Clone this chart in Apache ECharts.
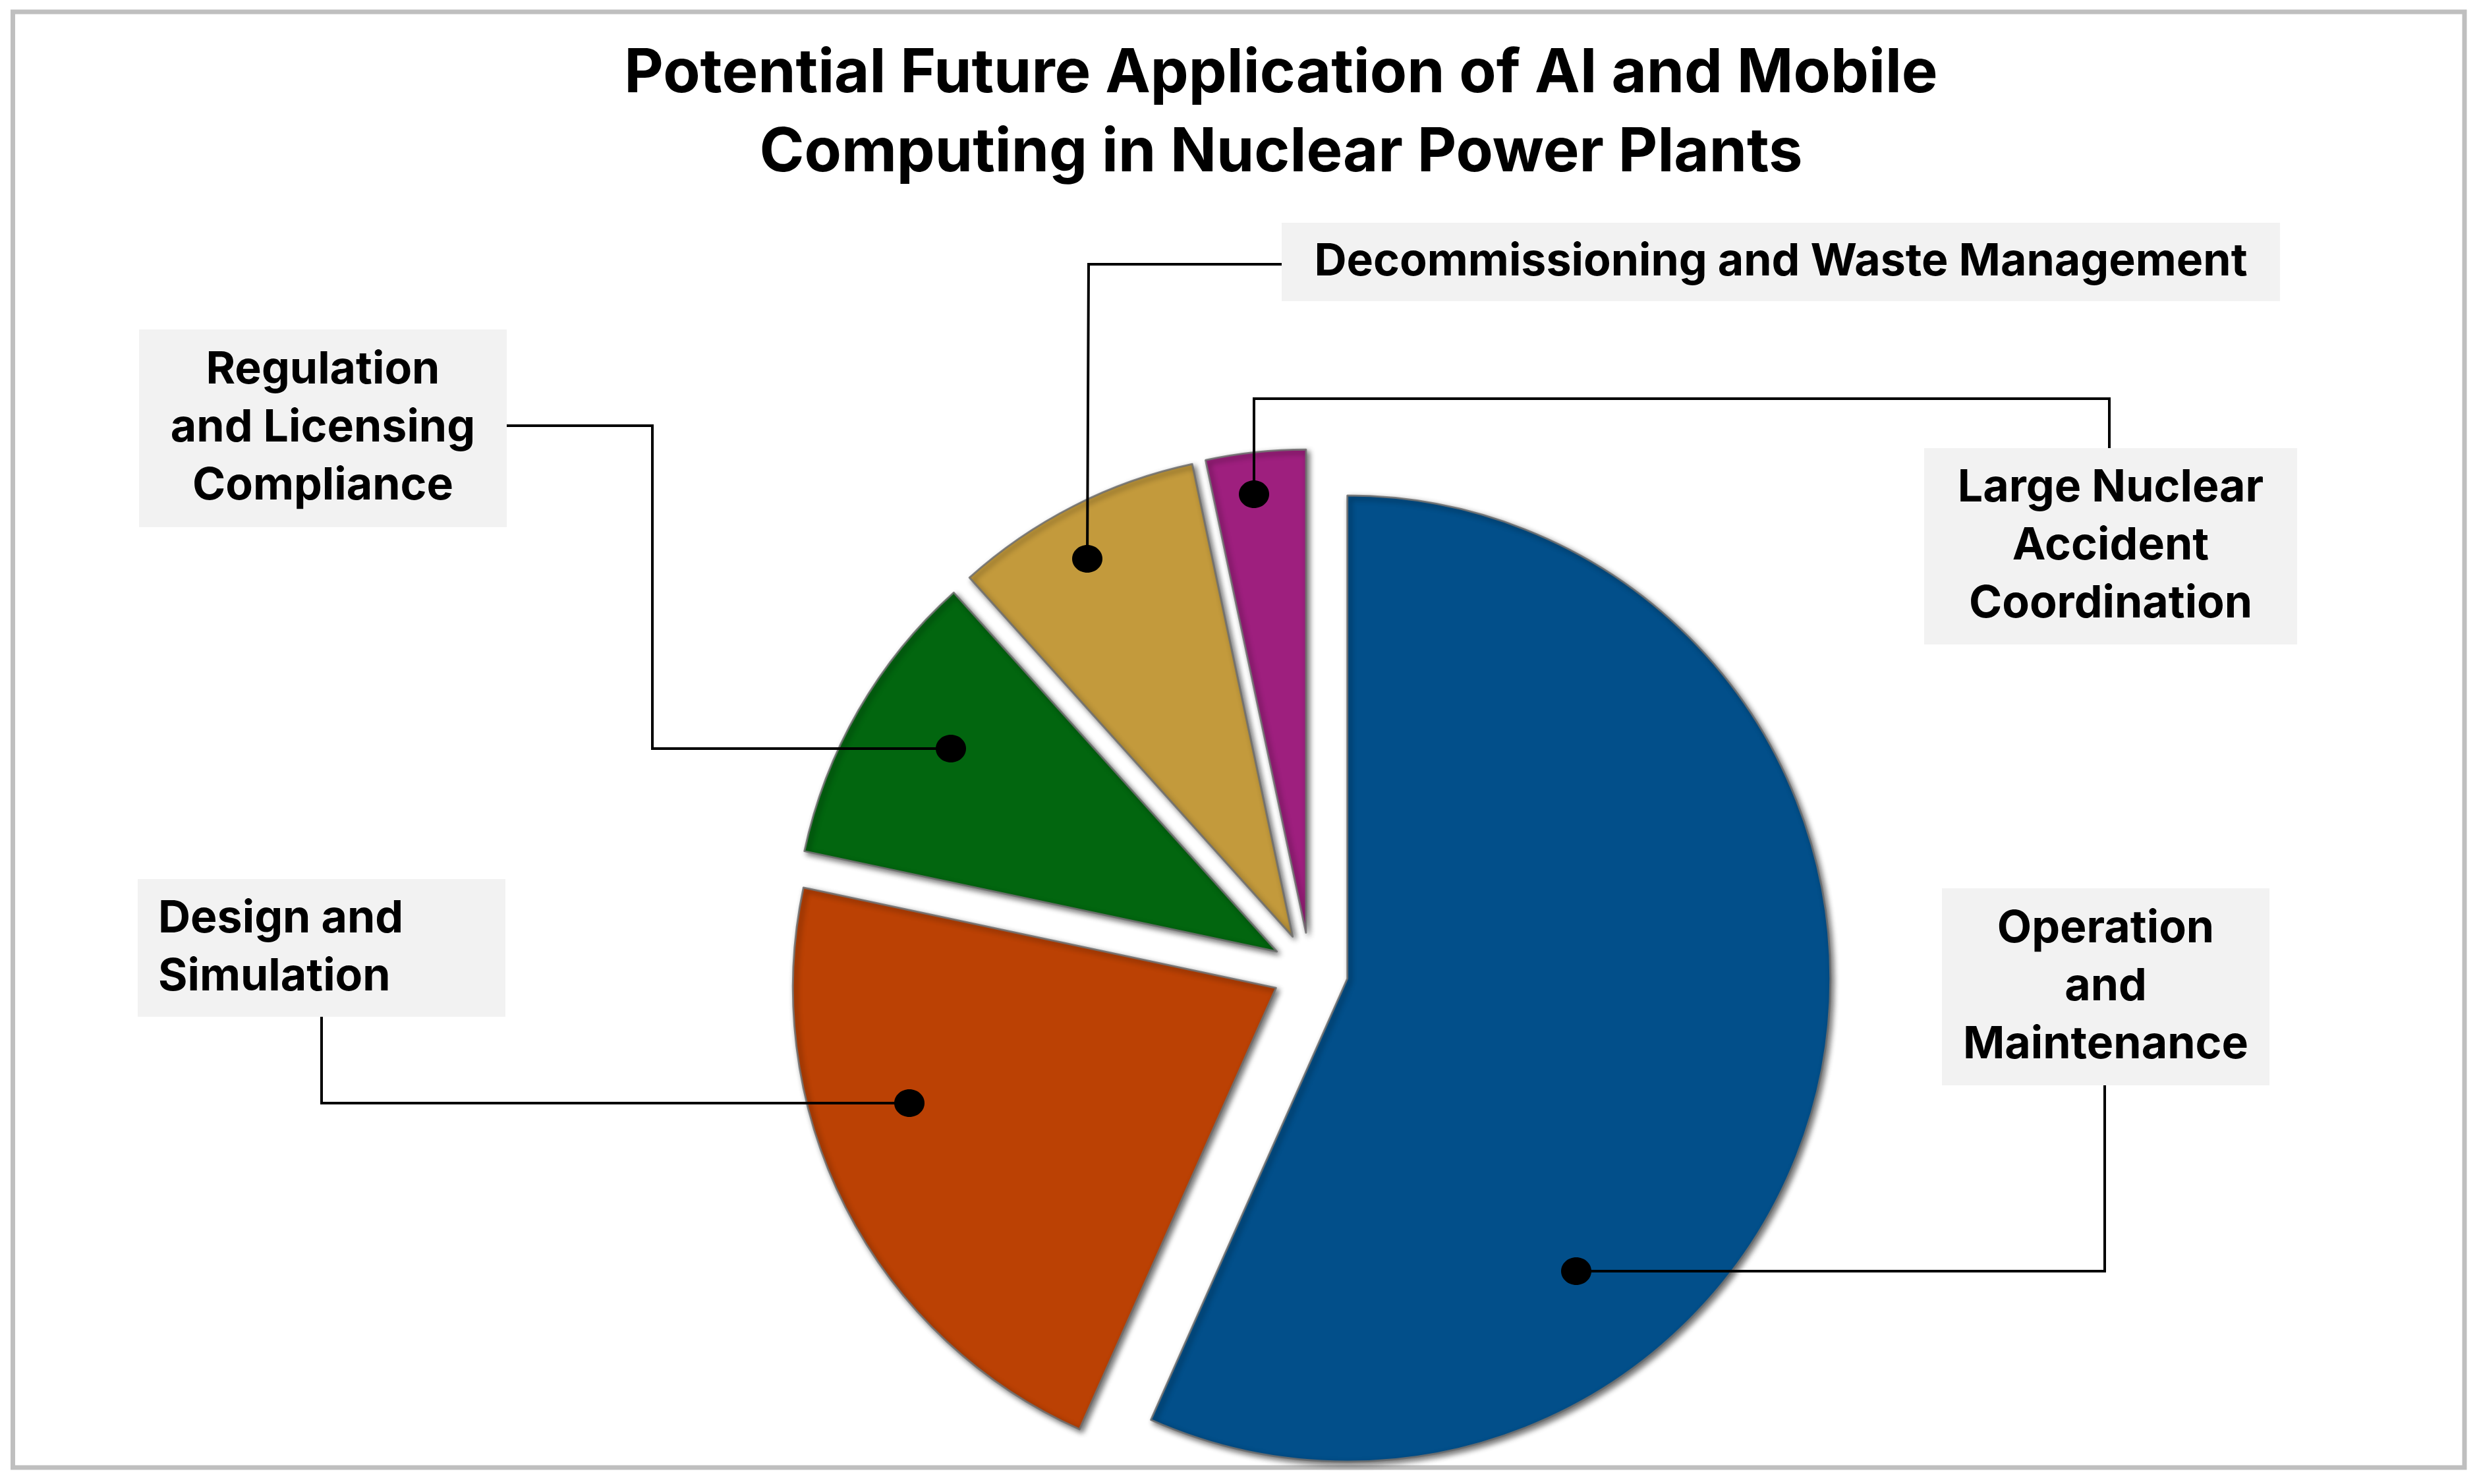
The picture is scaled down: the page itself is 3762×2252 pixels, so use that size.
<!DOCTYPE html>
<html>
<head>
    <meta charset="utf-8">
    <script src="https://cdn.jsdelivr.net/npm/echarts@6/dist/echarts.min.js"></script>
    <style>
        html, body { margin: 0; padding: 0; background: #fff; }
        #main { width: 3762px; height: 2252px; }
    </style>
</head>
<body>
<div id="main"></div>
<script>
    // slice data, clockwise from 12 o'clock
    var categories = [
        'Operation and Maintenance',
        'Design and Simulation',
        'Regulation and Licensing Compliance',
        'Decommissioning and Waste Management',
        'Large Nuclear Accident Coordination'
    ];
    var values = [34, 13, 6, 5, 2];
    var colors = ['#024F8A', '#BB4104', '#02660F', '#C39A3C', '#9E1F7E'];
    // how each label is wrapped in its box
    var labelText = [
        'Operation\nand\nMaintenance',
        'Design and\nSimulation',
        'Regulation\nand Licensing\nCompliance',
        'Decommissioning and Waste Management',
        'Large Nuclear\nAccident\nCoordination'
    ];

    // callout boxes and elbow connectors (pixel layout)
    var callouts = [
        {box: [2947, 1348, 497, 299], align: 'center', path: [[2392, 1929], [3194, 1929], [3194, 1647]]},
        {box: [209, 1334, 558, 209], align: 'left', path: [[1380, 1674], [488, 1674], [488, 1543]]},
        {box: [211, 500, 558, 300], align: 'center', path: [[1443, 1136], [990, 1136], [990, 646], [769, 646]]},
        {box: [1945, 338, 1515, 119], align: 'center', path: [[1650, 848], [1652, 401], [1945, 401]]},
        {box: [2920, 680, 566, 298], align: 'center', path: [[1903, 750], [1903, 605], [3201, 605], [3201, 680]]}
    ];

    var chart = echarts.init(document.getElementById('main'), null, {renderer: 'canvas'});

    var graphics = [{
        type: 'rect',
        z: 0,
        shape: {x: 19.5, y: 18, width: 3720.5, height: 2209},
        style: {fill: null, stroke: '#BFBFBF', lineWidth: 7}
    }];

    callouts.forEach(function (c, i) {
        var b = c.box;
        graphics.push({
            type: 'rect',
            z: 10,
            shape: {x: b[0], y: b[1], width: b[2], height: b[3]},
            style: {fill: '#F2F2F2'}
        });
        graphics.push({
            type: 'text',
            z: 11,
            style: {
                text: labelText[i],
                x: c.align === 'left' ? b[0] + 31 : b[0] + b[2] / 2,
                y: b[1] + b[3] / 2,
                align: c.align,
                verticalAlign: 'middle',
                fontFamily: 'Inter',
                fontWeight: 'bold',
                fontSize: 68,
                lineHeight: 88,
                fill: '#000'
            }
        });
        graphics.push({
            type: 'polyline',
            z: 12,
            shape: {points: c.path},
            style: {stroke: '#000', lineWidth: 4, fill: null}
        });
        graphics.push({
            type: 'ellipse',
            z: 13,
            shape: {cx: c.path[0][0], cy: c.path[0][1], rx: 23, ry: 21},
            style: {fill: '#000'}
        });
    });

    var pieData = values.map(function (v, i) {
        return {
            name: categories[i],
            value: v,
            selected: true,
            itemStyle: {color: colors[i]}
        };
    });

    var sliceStyle = {
        borderColor: 'rgba(110,110,110,0.85)',
        borderWidth: 3,
        shadowBlur: 8,
        shadowColor: 'rgba(0,0,0,0.55)',
        shadowOffsetX: 4,
        shadowOffsetY: 4
    };

    var option = {
        backgroundColor: '#fff',
        animation: false,
        title: {
            text: 'Potential Future Application of AI and Mobile\nComputing in Nuclear Power Plants',
            left: 1944,
            top: 52,
            padding: 0,
            textAlign: 'center',
            textStyle: {
                fontFamily: 'Inter',
                fontWeight: 'bold',
                fontSize: 92,
                lineHeight: 120,
                color: '#000'
            }
        },
        graphic: graphics,
        series: [{
            type: 'pie',
            center: [1988, 1473],
            radius: 733,
            startAngle: 90,
            clockwise: true,
            selectedMode: 'multiple',
            selectedOffset: 58,
            silent: true,
            label: {show: false},
            labelLine: {show: false},
            itemStyle: sliceStyle,
            select: {itemStyle: sliceStyle},
            emphasis: {disabled: true},
            data: pieData
        }]
    };

    chart.setOption(option);
</script>
</body>
</html>
